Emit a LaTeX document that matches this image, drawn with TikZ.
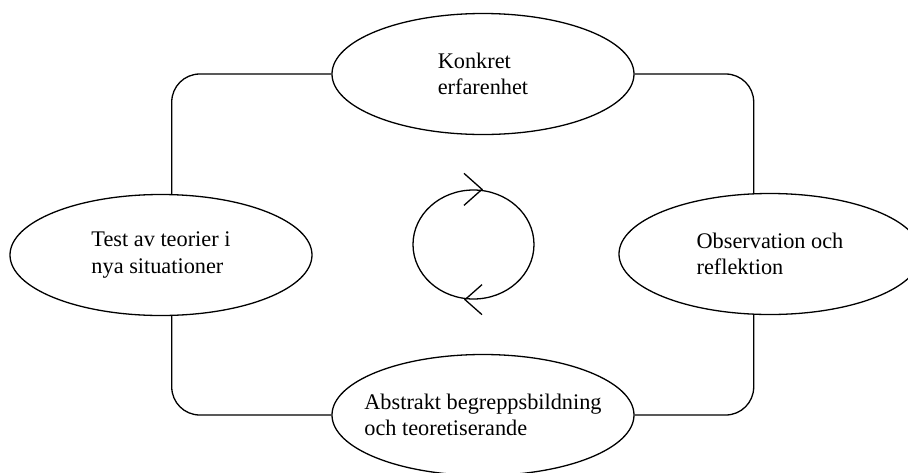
\documentclass[tikz,border=0pt]{standalone}
\usepackage{fontspec}
\setmainfont{Liberation Serif}
\usetikzlibrary{arrows.meta, positioning, shapes.geometric}

\begin{document}
\begin{tikzpicture}[node distance=180pt, line width=1.3pt,
    phase/.style={draw, ellipse, align=left, minimum width=302pt, minimum height=121pt, inner xsep=-30pt, inner ysep=0pt, font=\fontsize{22.3}{26.5}\selectfont}]
    \useasboundingbox (-483pt,74pt) rectangle (425pt,-398pt);
    \clip (-483pt,74pt) rectangle (425pt,-398pt);

    \node (konkret) [phase] {Konkret\\erfarenhet};
    \node (test) [phase, below of=konkret, xshift=-322pt, yshift=-1pt] {Test av teorier i\\nya situationer};
    \node (observation) [phase, below of=konkret, xshift=287pt] {Observation och\\reflektion};
    \node (abstrakt) [phase, below of=konkret, yshift=-161pt] {Abstrakt begreppsbildning\\och teoretiserande};
    \node (kretslopp) [draw, ellipse, below of=konkret, xshift=-9.5pt, yshift=9.5pt, minimum width=121pt, minimum height=109pt, inner sep=0pt] {};

    \draw[rounded corners=28pt] (konkret.west) -| (test.80);
    \draw[rounded corners=28pt] (konkret.east) -| (observation.105);
    \draw[rounded corners=28pt] (test.280) |- (abstrakt.west);
    \draw[rounded corners=28pt] (observation.255) |- (abstrakt.east);

    \draw ([xshift=-9.5pt, yshift=16pt]kretslopp.north) -- ([xshift=8.5pt]kretslopp.north) -- ([xshift=-9.5pt, yshift=-16pt]kretslopp.north);
    \draw ([xshift=8.5pt, yshift=15pt]kretslopp.south) -- ([xshift=-8.5pt]kretslopp.south) -- ([xshift=8.5pt, yshift=-15pt]kretslopp.south);
\end{tikzpicture}
\end{document}
